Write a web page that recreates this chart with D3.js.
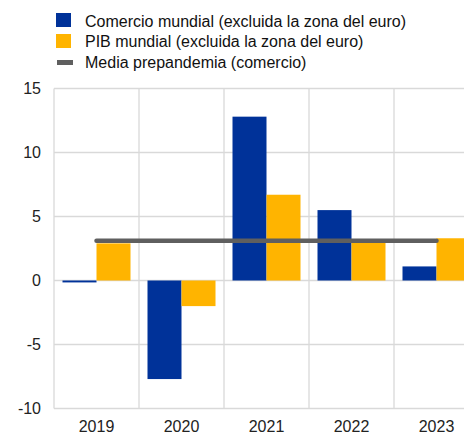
<!DOCTYPE html>
<html lang="es">
<head>
<meta charset="utf-8">
<script src="https://cdn.jsdelivr.net/npm/d3@7"></script>
<style>
  body { margin: 0; background: #fff; }
  svg { display: block; font-family: "Liberation Sans", Arial, sans-serif; }
</style>
</head>
<body>
<script>
const years = ["2019", "2020", "2021", "2022", "2023"];
const comercio = [-0.15, -7.7, 12.8, 5.5, 1.1];
const pib = [2.9, -2.0, 6.7, 3.2, 3.3];
const mediaPre = 3.1;
const yTicks = [-10, -5, 0, 5, 10, 15];
const legendLabels = [
  "Comercio mundial (excluida la zona del euro)",
  "PIB mundial (excluida la zona del euro)",
  "Media prepandemia (comercio)"
];

const w = 464, h = 434;
const blue = "#003299", yellow = "#ffb400", grey = "#5f5f5f", grid = "#d9d9d9";

const svg = d3.select("body").append("svg")
  .attr("width", w).attr("height", h);

// cut-off subtitle at the very top
svg.append("text").attr("x", 13).attr("y", -3)
  .attr("font-size", 16).attr("fill", blue)
  .text("(tasas de variación interanual; porcentajes)");

// scales
const x = d3.scaleBand().domain(years).range([54, 479]);
const y = d3.scaleLinear().domain([-10, 15]).range([408.5, 88.5]);
const inner = d3.scaleBand().domain(["c", "p"]).range([8.5, x.bandwidth() - 8.5]);

// grid
svg.append("g").selectAll("line").data(yTicks).join("line")
  .attr("x1", 54).attr("x2", w)
  .attr("y1", d => y(d)).attr("y2", d => y(d))
  .attr("stroke", grid).attr("stroke-width", 1.3);
svg.append("g").selectAll("line").data(years).join("line")
  .attr("x1", d => x(d)).attr("x2", d => x(d))
  .attr("y1", y(15)).attr("y2", y(-10))
  .attr("stroke", grid).attr("stroke-width", 1.3);

// y labels
svg.append("g").selectAll("text").data(yTicks).join("text")
  .attr("x", 41).attr("y", d => y(d) + 5.5)
  .attr("text-anchor", "end").attr("font-size", 16).attr("fill", "#222")
  .text(d => d);

// x labels
svg.append("g").selectAll("text").data(years).join("text")
  .attr("x", d => x(d) + x.bandwidth() / 2).attr("y", 432)
  .attr("text-anchor", "middle").attr("font-size", 16).attr("fill", "#222")
  .text(d => d);

// bars
const bars = (vals, key, color) => svg.append("g").selectAll("rect")
  .data(vals).join("rect")
  .attr("x", (d, i) => x(years[i]) + inner(key))
  .attr("width", inner.bandwidth())
  .attr("y", d => y(Math.max(0, d)))
  .attr("height", d => Math.abs(y(d) - y(0)))
  .attr("fill", color);
bars(comercio, "c", blue);
bars(pib, "p", yellow);

// pre-pandemic average line
svg.append("line")
  .attr("x1", x(years[0]) + x.bandwidth() / 2)
  .attr("x2", x(years[years.length - 1]) + x.bandwidth() / 2)
  .attr("y1", y(mediaPre)).attr("y2", y(mediaPre))
  .attr("stroke", grey).attr("stroke-width", 4.5).attr("stroke-linecap", "round");

// legend
const lg = svg.append("g");
lg.append("rect").attr("x", 56).attr("y", 13).attr("width", 15).attr("height", 14).attr("fill", blue);
lg.append("rect").attr("x", 56).attr("y", 34).attr("width", 15).attr("height", 14).attr("fill", yellow);
lg.append("rect").attr("x", 57).attr("y", 60).attr("width", 16).attr("height", 5).attr("fill", grey);
lg.selectAll("text").data(legendLabels).join("text")
  .attr("x", 85).attr("y", (d, i) => 26.5 + i * 20.5)
  .attr("font-size", 16).attr("fill", "#111")
  .text(d => d);
</script>
</body>
</html>
